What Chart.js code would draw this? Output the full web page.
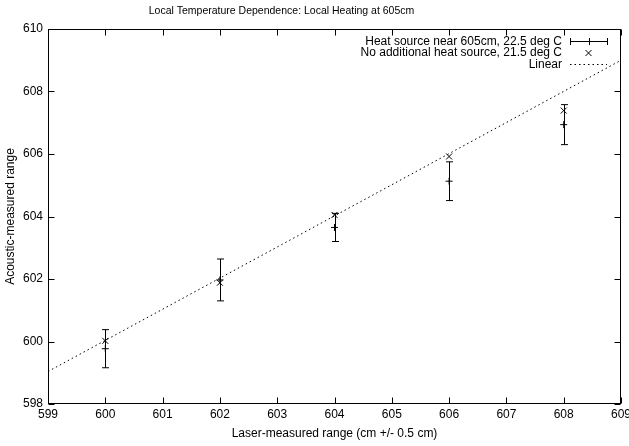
<!DOCTYPE html>
<html>
<head>
<meta charset="utf-8">
<script src="https://cdn.jsdelivr.net/npm/chart.js@4/dist/chart.umd.min.js"></script>
<style>
  html, body { margin: 0; padding: 0; background: #fff; }
  canvas { display: block; }
</style>
</head>
<body>
<canvas id="chart" width="629" height="446"></canvas>
<script>
// Laser-measured positions (cm)
const laserRange = [600, 602, 604, 606, 608];
// Acoustic range with a heat source near 605 cm (22.5 deg C), with error half-widths
const heatedRange = [599.77, 601.97, 603.65, 605.13, 606.94];
const heatedError = [0.61, 0.67, 0.45, 0.62, 0.64];
// Acoustic range without additional heating (21.5 deg C)
const ambientRange = [600.02, 601.88, 604.05, 605.92, 607.39];
// Linear fit, evaluated at the ends of the x range
const fitX = [599, 609];
const fitY = [599.04, 609.0];
// Axis ticks
const xTicks = [599, 600, 601, 602, 603, 604, 605, 606, 607, 608, 609];
const yTicks = [598, 600, 602, 604, 606, 608, 610];
// Text
const seriesLabels = ['Heat source near 605cm, 22.5 deg C', 'No additional heat source, 21.5 deg C', 'Linear'];
const chartTitle = 'Local Temperature Dependence: Local Heating at 605cm';
const xTitle = 'Laser-measured range (cm +/- 0.5 cm)';
const yTitle = 'Acoustic-measured range';

const FONT = '"Liberation Sans", Arial, Helvetica, sans-serif';
const INK = '#000';
const TICK_LEN = 6;
const CAP = 3.5;

// Vertical error bars for the heated series
const errorBars = {
  id: 'errorBars',
  afterDatasetsDraw(chart) {
    const { ctx, scales: { x, y } } = chart;
    ctx.save();
    ctx.strokeStyle = INK;
    ctx.lineWidth = 1;
    laserRange.forEach((lx, i) => {
      const px = Math.round(x.getPixelForValue(lx)) + 0.5;
      const top = y.getPixelForValue(heatedRange[i] + heatedError[i]);
      const bot = y.getPixelForValue(heatedRange[i] - heatedError[i]);
      ctx.beginPath();
      ctx.moveTo(px, top); ctx.lineTo(px, bot);
      ctx.moveTo(px - CAP, top); ctx.lineTo(px + CAP, top);
      ctx.moveTo(px - CAP, bot); ctx.lineTo(px + CAP, bot);
      ctx.stroke();
    });
    ctx.restore();
  }
};

// Framed plot box with inward ticks on all four sides, title and key
const frame = {
  id: 'frame',
  afterDraw(chart) {
    const { ctx, chartArea: a, scales: { x, y } } = chart;
    ctx.save();
    ctx.strokeStyle = INK;
    ctx.lineWidth = 1;
    const L = a.left + 0.5, R = a.right - 0.5, T = a.top + 0.5, B = a.bottom - 0.5;
    ctx.strokeRect(L, T, R - L, B - T);
    ctx.beginPath();
    xTicks.forEach(v => {
      const px = Math.round(x.getPixelForValue(v)) + 0.5;
      ctx.moveTo(px, B); ctx.lineTo(px, B - TICK_LEN);
      ctx.moveTo(px, T); ctx.lineTo(px, T + TICK_LEN);
    });
    yTicks.forEach(v => {
      const py = Math.round(y.getPixelForValue(v)) + 0.5;
      ctx.moveTo(L, py); ctx.lineTo(L + TICK_LEN, py);
      ctx.moveTo(R, py); ctx.lineTo(R - TICK_LEN, py);
    });
    ctx.stroke();

    // Title
    ctx.fillStyle = INK;
    ctx.font = '10.5px ' + FONT;
    ctx.textAlign = 'center';
    ctx.textBaseline = 'middle';
    ctx.fillText(chartTitle, 281.5, 11);

    // Key
    ctx.font = '12px ' + FONT;
    ctx.textAlign = 'right';
    const textRight = a.right - 59;
    const s0 = a.right - 51, s1 = a.right - 14, sm = (s0 + s1) / 2;
    const rows = [a.top + 12, a.top + 23.5, a.top + 35];
    seriesLabels.forEach((t, i) => ctx.fillText(t, textRight, rows[i] + 0.5));

    // heated sample: horizontal bar with end caps and centre mark
    let ry = Math.round(rows[0]) + 0.5;
    ctx.beginPath();
    ctx.moveTo(s0, ry); ctx.lineTo(s1, ry);
    [s0, sm, s1].forEach(sx => { ctx.moveTo(Math.round(sx) + 0.5, ry - 3.5); ctx.lineTo(Math.round(sx) + 0.5, ry + 3.5); });
    ctx.stroke();
    // ambient sample: diagonal cross
    ry = rows[1] + 0.5;
    ctx.beginPath();
    ctx.moveTo(sm - 3, ry - 3); ctx.lineTo(sm + 3, ry + 3);
    ctx.moveTo(sm - 3, ry + 3); ctx.lineTo(sm + 3, ry - 3);
    ctx.stroke();
    // fit sample: dotted line
    ry = Math.round(rows[2]) + 0.5;
    ctx.setLineDash([1.5, 3]);
    ctx.beginPath();
    ctx.moveTo(s0, ry); ctx.lineTo(s1, ry);
    ctx.stroke();
    ctx.restore();
  }
};

new Chart(document.getElementById('chart'), {
  type: 'scatter',
  data: {
    datasets: [
      {
        label: seriesLabels[0],
        data: laserRange.map((v, i) => ({ x: v, y: heatedRange[i] })),
        pointStyle: 'cross',
        pointRadius: 3.5,
        borderColor: INK,
        backgroundColor: INK,
        borderWidth: 1
      },
      {
        label: seriesLabels[1],
        data: laserRange.map((v, i) => ({ x: v, y: ambientRange[i] })),
        pointStyle: 'crossRot',
        pointRadius: 4.2,
        borderColor: INK,
        backgroundColor: INK,
        borderWidth: 1
      },
      {
        label: seriesLabels[2],
        type: 'line',
        data: fitX.map((v, i) => ({ x: v, y: fitY[i] })),
        borderColor: INK,
        borderWidth: 1,
        borderDash: [1.5, 3],
        pointRadius: 0,
        fill: false
      }
    ]
  },
  options: {
    responsive: false,
    animation: false,
    devicePixelRatio: 1,
    layout: { padding: { top: 29, right: 8, left: 0, bottom: 0 } },
    plugins: { legend: { display: false }, tooltip: { enabled: false }, title: { display: false } },
    scales: {
      x: {
        type: 'linear',
        min: 599, max: 609,
        afterBuildTicks: s => { s.ticks = xTicks.map(v => ({ value: v })); },
        afterFit: s => { s.height = 42; s.paddingLeft = 0; s.paddingRight = 0; },
        grid: { display: false, drawTicks: false },
        border: { display: false },
        ticks: { color: INK, padding: 3, maxRotation: 0, autoSkip: false, font: { family: FONT, size: 12 } },
        title: { display: true, text: xTitle, color: INK, padding: { top: 0, bottom: 5 }, font: { family: FONT, size: 12 } }
      },
      y: {
        type: 'linear',
        min: 598, max: 610,
        afterBuildTicks: s => { s.ticks = yTicks.map(v => ({ value: v })); },
        afterFit: s => { s.width = 48; s.paddingTop = 0; s.paddingBottom = 0; },
        grid: { display: false, drawTicks: false },
        border: { display: false },
        ticks: { color: INK, padding: 5, autoSkip: false, font: { family: FONT, size: 12 } },
        title: { display: true, text: yTitle, color: INK, padding: { top: 3, bottom: 0 }, font: { family: FONT, size: 12 } }
      }
    }
  },
  plugins: [errorBars, frame]
});
</script>
</body>
</html>
